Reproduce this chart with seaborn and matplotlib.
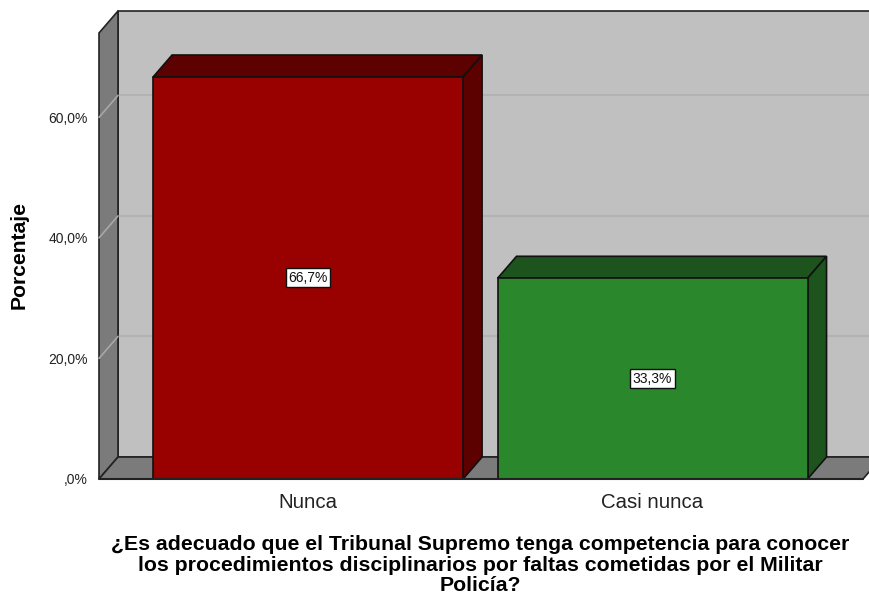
import numpy as np
import pandas as pd
import matplotlib
matplotlib.use("Agg")
import matplotlib.pyplot as plt
from matplotlib.patches import Polygon, Rectangle
import seaborn as sns

# datos
categorias = ["Nunca", "Casi nunca"]
porcentajes = [66.7, 33.3]
etiquetas = ["66,7%", "33,3%"]
colores_frente = ["#990000", "#2b872b"]
colores_lado = ["#5c0000", "#1d531d"]
ticks_y = [0, 20, 40, 60]
ticks_y_txt = [",0%", "20,0%", "40,0%", "60,0%"]
titulo_x = ("¿Es adecuado que el Tribunal Supremo tenga competencia para conocer\n"
            "los procedimientos disciplinarios por faltas cometidas por el Militar\n"
            "Policía?")

sns.set_theme(style="white")
plt.rcParams["font.family"] = ["Liberation Sans", "DejaVu Sans"]

df = pd.DataFrame({"cat": categorias, "pct": porcentajes})

W, H = 870, 594
fig = plt.figure(figsize=(W / 100, H / 100), dpi=100)
ax = fig.add_axes([99 / W, (H - 479) / H, 764 / W, 446 / H])

x0, x1 = -0.607, 1.611
y0, y1 = 0, 74
ax.set_xlim(x0, x1)
ax.set_ylim(y0, y1)

# profundidad 3D en unidades de datos
ddx = 19 * (x1 - x0) / 764
ddy = 22 * (y1 - y0) / 446

# pared trasera
ax.add_patch(Rectangle((x0 + ddx, y0 + ddy), (x1 - x0) + 1, y1 - y0,
                       facecolor="#c0c0c0", edgecolor="#222222", lw=1.2,
                       clip_on=False, zorder=0))
# pared izquierda
ax.add_patch(Polygon([(x0, y0), (x0, y1), (x0 + ddx, y1 + ddy), (x0 + ddx, y0 + ddy)],
                     closed=True, facecolor="#7b7b7b", edgecolor="#222222", lw=1.2,
                     clip_on=False, zorder=1))
# suelo
ax.add_patch(Polygon([(x0, y0), (x1, y0), (x1 + ddx, y0 + ddy), (x0 + ddx, y0 + ddy)],
                     closed=True, facecolor="#7b7b7b", edgecolor="#222222", lw=1.2,
                     clip_on=False, zorder=1))

# lineas de rejilla
for v in ticks_y[1:]:
    ax.plot([x0 + ddx, x1 + 1], [v + ddy, v + ddy], color="#b2b2b2", lw=1.5,
            clip_on=False, zorder=0.5)
    ax.plot([x0, x0 + ddx], [v, v + ddy], color="#a8a8a8", lw=1.2,
            clip_on=False, zorder=1.5)

sns.barplot(data=df, x="cat", y="pct", hue="cat", palette=colores_frente,
            width=0.9, edgecolor="#111111", linewidth=1.2, legend=False,
            saturation=1, ax=ax, zorder=5)
ax.set_xlim(x0, x1)
ax.set_ylim(y0, y1)

barras = [b for c in ax.containers for b in c]
for i, p in enumerate(barras):
    x, w, h = p.get_x(), p.get_width(), p.get_height()
    ax.add_patch(Polygon([(x, h), (x + w, h), (x + w + ddx, h + ddy), (x + ddx, h + ddy)],
                         closed=True, facecolor=colores_lado[i], edgecolor="#111111",
                         lw=1.2, clip_on=False, zorder=4))
    ax.add_patch(Polygon([(x + w, 0), (x + w, h), (x + w + ddx, h + ddy), (x + w + ddx, ddy)],
                         closed=True, facecolor=colores_lado[i], edgecolor="#111111",
                         lw=1.2, clip_on=False, zorder=4))
    ax.text(x + w / 2, h / 2, etiquetas[i], ha="center", va="center", fontsize=10,
            color="#111111", zorder=6,
            bbox=dict(boxstyle="square,pad=0.18", facecolor="white", edgecolor="#111111", lw=1))

ax.plot([x0, x1], [0, 0], color="#222222", lw=1.5, clip_on=False, zorder=6)

for s in ax.spines.values():
    s.set_visible(False)
ax.grid(False)

ax.set_yticks(ticks_y)
ax.set_yticklabels(ticks_y_txt, fontsize=10, color="#222222")
ax.tick_params(axis="y", length=0, pad=8)
ax.tick_params(axis="x", length=0, pad=10, labelsize=14.7, labelcolor="#222222")

ax.set_ylabel("Porcentaje", fontsize=15.2, fontweight="bold", color="black")
ax.yaxis.set_label_coords(-0.0916, 0.502)
ax.set_xlabel(titulo_x, fontsize=15.3, fontweight="bold", color="black",
              linespacing=1.08, va="center")
ax.xaxis.set_label_coords(0.499, -0.193)

fig.savefig("out.png", dpi=100)
plt.close(fig)
